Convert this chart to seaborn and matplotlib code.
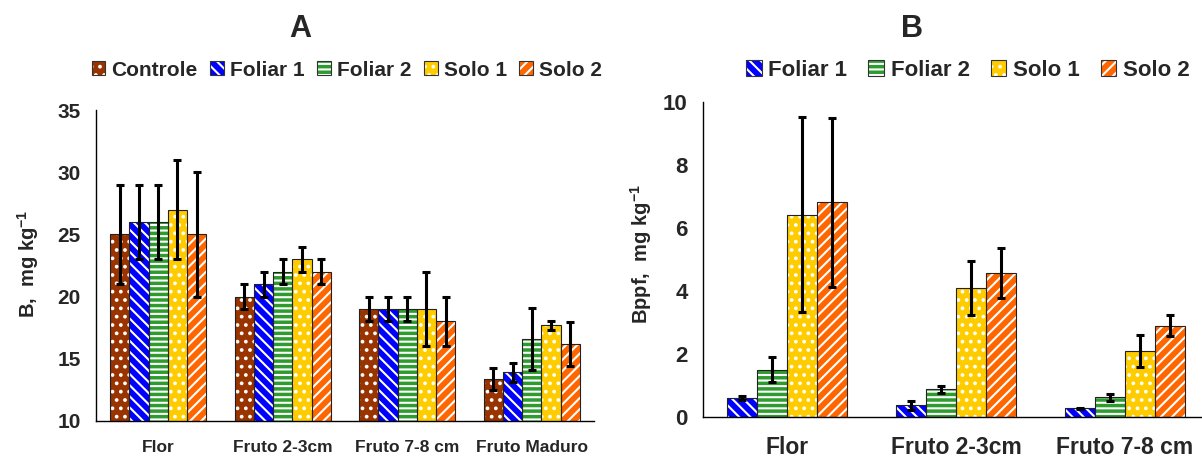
import pandas as pd
import matplotlib
matplotlib.use('Agg')
import matplotlib.pyplot as plt
import seaborn as sns
from matplotlib.patches import Rectangle, Patch
from matplotlib.legend_handler import HandlerTuple

# ---- dados painel A
cat_a = ['Flor', 'Fruto 2-3cm', 'Fruto 7-8 cm', 'Fruto Maduro']
trat_a = ['Controle', 'Foliar 1', 'Foliar 2', 'Solo 1', 'Solo 2']
controle = [25, 20, 19, 13.4]
foliar1 = [26, 21, 19, 13.9]
foliar2 = [26, 22, 19, 16.6]
solo1 = [27, 23, 19, 17.7]
solo2 = [25, 22, 18, 16.2]
controle_dp = [4, 1, 1, 0.9]
foliar1_dp = [3, 1, 1, 0.8]
foliar2_dp = [3, 1, 1, 2.5]
solo1_dp = [4, 1, 3, 0.35]
solo2_dp = [5, 1, 2, 1.75]

# ---- dados painel B
cat_b = ['Flor', 'Fruto 2-3cm', 'Fruto 7-8 cm']
trat_b = ['Foliar 1', 'Foliar 2', 'Solo 1', 'Solo 2']
b_foliar1 = [0.6, 0.37, 0.27]
b_foliar2 = [1.5, 0.88, 0.62]
b_solo1 = [6.42, 4.1, 2.1]
b_solo2 = [6.82, 4.57, 2.9]
b_foliar1_dp = [0.06, 0.14, 0.02]
b_foliar2_dp = [0.4, 0.12, 0.1]
b_solo1_dp = [3.1, 0.85, 0.5]
b_solo2_dp = [2.68, 0.78, 0.33]

cores = {'Controle': '#993300', 'Foliar 1': '#0000FF', 'Foliar 2': '#2E9B2E',
         'Solo 1': '#FFCC00', 'Solo 2': '#FF6600'}
hachuras = {'Controle': '..', 'Foliar 1': '\\\\\\', 'Foliar 2': '---',
            'Solo 1': '..', 'Solo 2': '///'}


def tabela(cats, trats, medias):
    linhas = []
    for t, vals in zip(trats, medias):
        for c, v in zip(cats, vals):
            linhas.append({'categoria': c, 'tratamento': t, 'valor': v})
    return pd.DataFrame(linhas)


def painel(ax, cats, trats, medias, dps, largura, fs_x, fs_y):
    df = tabela(cats, trats, medias)
    sns.barplot(data=df, x='categoria', y='valor', hue='tratamento',
                order=cats, hue_order=trats, palette=cores, saturation=1,
                width=largura, errorbar=None, legend=False, ax=ax)
    for t, cont, dp in zip(trats, ax.containers, dps):
        xs, ys = [], []
        for p in cont:
            p.set_hatch(hachuras[t])
            p.set_edgecolor('white')
            p.set_linewidth(0)
            ax.add_patch(Rectangle(p.get_xy(), p.get_width(), p.get_height(),
                                   fill=False, edgecolor='#222222', lw=0.8, zorder=3))
            xs.append(p.get_x() + p.get_width() / 2)
            ys.append(p.get_height())
        ax.errorbar(xs, ys, yerr=dp, fmt='none', ecolor='black', elinewidth=2.2,
                    capsize=2.8, capthick=2.2, zorder=4)
    n = len(cats)
    ax.set_xlim(-0.5, n - 0.5)
    ax.set_xticks(range(n))
    ax.set_xticklabels(cats, fontsize=fs_x, fontweight='bold')
    ax.tick_params(axis='x', which='major', length=0, pad=14)
    ax.set_xticks([i - 0.5 for i in range(n + 1)], minor=True)
    ax.tick_params(axis='x', which='minor', length=5, width=1, color='#555555')
    ax.tick_params(axis='y', length=5, width=1, labelsize=fs_y, direction='out', pad=6)
    for s in ['top', 'right']:
        ax.spines[s].set_visible(False)
    for s in ['left', 'bottom']:
        ax.spines[s].set_color('black')
        ax.spines[s].set_linewidth(1)
    ax.set_xlabel('')
    ax.set_ylabel('')
    handles = []
    for t in trats:
        handles.append((Patch(facecolor=cores[t], hatch=hachuras[t], edgecolor='white', lw=0),
                        Patch(fill=False, edgecolor='#333333', lw=0.8)))
    return handles


sns.set_style('white')
plt.rcParams['font.family'] = 'Liberation Sans'
plt.rcParams['font.weight'] = 'bold'
plt.rcParams['hatch.linewidth'] = 1.5
plt.rcParams['mathtext.fontset'] = 'custom'
plt.rcParams['mathtext.rm'] = 'Liberation Sans:bold'
plt.rcParams['mathtext.bf'] = 'Liberation Sans:bold'
plt.rcParams['mathtext.default'] = 'bf'

fig = plt.figure(figsize=(12.02, 4.59), dpi=100)
ax_a = fig.add_axes([96 / 1202, 1 - 421 / 459, 498 / 1202, 311 / 459])
ax_b = fig.add_axes([703 / 1202, 1 - 417 / 459, 506 / 1202, 315 / 459])

h_a = painel(ax_a, cat_a, trat_a, [controle, foliar1, foliar2, solo1, solo2],
             [controle_dp, foliar1_dp, foliar2_dp, solo1_dp, solo2_dp], 0.77, 12.5, 15)
ax_a.set_ylim(10, 35)
ax_a.set_yticks(range(10, 36, 5))
ax_a.set_yticklabels([str(v) for v in range(10, 36, 5)], fontweight='bold')

h_b = painel(ax_b, cat_b, trat_b, [b_foliar1, b_foliar2, b_solo1, b_solo2],
             [b_foliar1_dp, b_foliar2_dp, b_solo1_dp, b_solo2_dp], 0.71, 16.5, 16)
ax_b.set_ylim(0, 10)
ax_b.set_yticks(range(0, 11, 2))
ax_b.set_yticklabels([str(v) for v in range(0, 11, 2)], fontweight='bold')

fig.text(28.5 / 1202, 1 - 264 / 459, 'B,  mg kg$^{-1}$', rotation=90, fontsize=14.5,
         fontweight='bold', ha='center', va='center')
fig.text(641 / 1202, 1 - 254 / 459, 'Bppf,  mg kg$^{-1}$', rotation=90, fontsize=14.5,
         fontweight='bold', ha='center', va='center')

fig.legend(h_a, trat_a, handler_map={tuple: HandlerTuple(ndivide=1, pad=0)},
           ncol=5, frameon=False, loc='center', bbox_to_anchor=(347 / 1202, 1 - 70 / 459),
           fontsize=15, handlelength=0.65, handleheight=0.65, handletextpad=0.3,
           columnspacing=0.6, borderpad=0, borderaxespad=0)
fig.legend(h_b, trat_b, handler_map={tuple: HandlerTuple(ndivide=1, pad=0)},
           ncol=4, frameon=False, loc='center', bbox_to_anchor=(968 / 1202, 1 - 70 / 459),
           fontsize=16, handlelength=0.7, handleheight=0.7, handletextpad=0.3,
           columnspacing=0.95, borderpad=0, borderaxespad=0)

fig.text(300 / 1202, 1 - 29 / 459, 'A', fontsize=22, fontweight='bold', ha='center', va='center')
fig.text(912 / 1202, 1 - 29 / 459, 'B', fontsize=22, fontweight='bold', ha='center', va='center')

fig.savefig('out.png', dpi=100)
